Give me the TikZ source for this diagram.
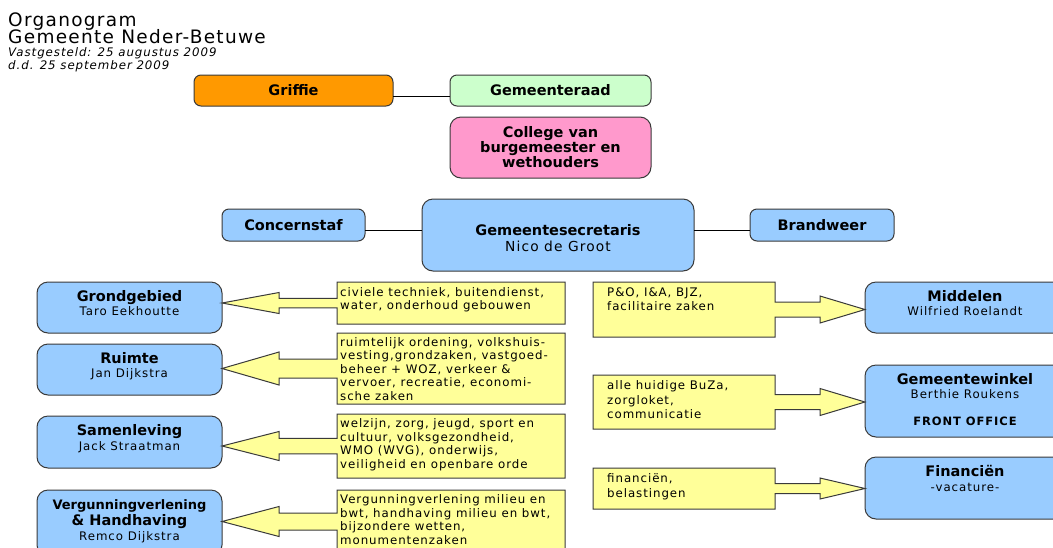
\documentclass[tikz,border=0pt]{standalone}
\usepackage{fontspec}
\setmainfont{DejaVu Sans}
\newfontfamily\bodyf[LetterSpace=8]{DejaVu Sans}
\newfontfamily\headf[LetterSpace=7]{DejaVu Sans}
\usetikzlibrary{calc}
\definecolor{orangeF}{HTML}{FF9900}
\definecolor{greenF}{HTML}{CCFFCC}
\definecolor{pinkF}{HTML}{FF99CC}
\definecolor{blueF}{HTML}{99CCFF}
\definecolor{yellowF}{HTML}{FFFF99}
\definecolor{edgeC}{HTML}{3A3A3A}
% #1 frame node, #2 department node, #3 shaft half height, #4 head half height
\newcommand\leftcallout[4]{%
  \draw[callout] (#1.north east) -- (#1.north west) -- ($(#1.west)+(0,-#3)$)
    -- ($(#2.east |- #1.west)+(57,-#3)$) -- ($(#2.east |- #1.west)+(57,-#4)$)
    -- (#2.east |- #1.west)
    -- ($(#2.east |- #1.west)+(57,#4)$) -- ($(#2.east |- #1.west)+(57,#3)$)
    -- ($(#1.west)+(0,#3)$) -- (#1.south west) -- (#1.south east) -- cycle;}
\newcommand\rightcallout[4]{%
  \draw[callout] (#1.north west) -- (#1.north east) -- ($(#1.east)+(0,-#3)$)
    -- ($(#2.west |- #1.east)+(-45,-#3)$) -- ($(#2.west |- #1.east)+(-45,-#4)$)
    -- (#2.west |- #1.east)
    -- ($(#2.west |- #1.east)+(-45,#4)$) -- ($(#2.west |- #1.east)+(-45,#3)$)
    -- ($(#1.east)+(0,#3)$) -- (#1.south east) -- (#1.south west) -- cycle;}
\tikzset{
  box/.style={draw=edgeC, line width=1pt, rounded corners=7pt, inner sep=0pt, outer sep=0pt},
  bigbox/.style={box, rounded corners=11pt},
  ttl/.style={font=\fontsize{14.5pt}{15pt}\selectfont\bfseries, inner sep=0pt, anchor=base},
  nm/.style={font=\bodyf\fontsize{11.8pt}{13.5pt}\selectfont, inner sep=0pt, anchor=base},
  frame/.style={inner sep=0pt, outer sep=0pt},
  callout/.style={draw=edgeC, fill=yellowF, line width=1pt, line join=miter},
  ctext/.style={font=\bodyf\fontsize{11.8pt}{13.5pt}\selectfont, align=left, inner sep=0pt, anchor=north west},
  rtext/.style={ctext, font=\bodyf\fontsize{11.8pt}{14.5pt}\selectfont},
  link/.style={draw=black, line width=1pt},
  head/.style={anchor=base west, inner sep=0pt, font=\headf\fontsize{18.5pt}{20pt}\selectfont},
  sub/.style={anchor=base west, inner sep=0pt, font=\bodyf\itshape\fontsize{11.8pt}{13pt}\selectfont},
}
\begin{document}
\begin{tikzpicture}[x=1pt, y=-1pt]
\useasboundingbox (0,0) rectangle (1053,547);
\clip (0,0) rectangle (1053,547);
\fill[white] (0,0) rectangle (1053,547);

% heading
\node[head] (h1) at (8,26) {Organogram};
\node[head] (h2) at (8,43) {Gemeente Neder-Betuwe};
\node[sub] (h3) at (8,56) {Vastgesteld: 25 augustus 2009};
\node[sub] (h4) at (8,69) {d.d. 25 september 2009};

% top boxes
\node[box, fill=orangeF, minimum width=199pt, minimum height=31pt, font=\fontsize{14.5pt}{15pt}\selectfont\bfseries] (griffie) at (293.5,90.5) {Griffie};
\node[box, fill=greenF, minimum width=201pt, minimum height=31pt, font=\fontsize{14.5pt}{15pt}\selectfont\bfseries] (raad) at (550.5,90.5) {Gemeenteraad};
\draw[link] ($(griffie.east)+(0,5.5)$) -- ($(raad.west)+(0,5.5)$);

\node[bigbox, fill=pinkF, minimum width=201pt, minimum height=61pt, align=center, font=\fontsize{14.5pt}{15pt}\selectfont\bfseries] (college) at (550.5,147.5) {College van\\burgemeester en\\wethouders};

\node[bigbox, fill=blueF, minimum width=272pt, minimum height=72pt] (secr) at (558,235) {};
\node[ttl] (secrT) at ($(secr.north)+(0,36)$) {Gemeentesecretaris};
\node[nm, font=\bodyf\fontsize{13.8pt}{15pt}\selectfont] (secrN) at ($(secr.north)+(0,52.5)$) {Nico de Groot};

\node[box, fill=blueF, minimum width=143pt, minimum height=32pt, font=\fontsize{14.5pt}{15pt}\selectfont\bfseries] (concern) at (293.5,225) {Concernstaf};
\node[box, fill=blueF, minimum width=144pt, minimum height=32pt, font=\fontsize{14.5pt}{15pt}\selectfont\bfseries] (brand) at (822,225) {Brandweer};
\draw[link] ($(concern.east)+(0,5)$) -- ($(concern.east -| secr.west)+(0,5)$);
\draw[link] ($(secr.east |- brand.west)+(0,5)$) -- ($(brand.west)+(0,5)$);

% left departments
\node[bigbox, fill=blueF, minimum width=185pt, minimum height=51pt] (grond) at (129.5,307.5) {};
\node[bigbox, fill=blueF, minimum width=185pt, minimum height=51pt] (ruimte) at (129.5,369.5) {};
\node[bigbox, fill=blueF, minimum width=185pt, minimum height=52pt] (samen) at (129.5,442) {};
\node[bigbox, fill=blueF, minimum width=185pt, minimum height=66pt] (verg) at (129.5,523) {};

% right departments
\node[bigbox, fill=blueF, minimum width=200pt, minimum height=51pt] (midd) at (965,307.5) {};
\node[bigbox, fill=blueF, minimum width=200pt, minimum height=72pt] (winkel) at (965,401) {};
\node[bigbox, fill=blueF, minimum width=200pt, minimum height=62pt] (fin) at (965,488) {};

% callout frames
\node[frame, minimum width=228pt, minimum height=42pt] (c1) at (451,303) {};
\node[frame, minimum width=228pt, minimum height=71pt] (c2) at (451,368.5) {};
\node[frame, minimum width=228pt, minimum height=64pt] (c3) at (451,446) {};
\node[frame, minimum width=228pt, minimum height=63pt] (c4) at (451,521.5) {};
\node[frame, minimum width=182pt, minimum height=55pt] (r1) at (684,309.5) {};
\node[frame, minimum width=182pt, minimum height=54pt] (r2) at (684,402) {};
\node[frame, minimum width=182pt, minimum height=41pt] (r3) at (684,488.5) {};

\leftcallout{c1}{grond}{4.75}{10.5}
\leftcallout{c2}{ruimte}{9.5}{16.5}
\leftcallout{c3}{samen}{7.75}{14.5}
\leftcallout{c4}{verg}{8.5}{15}
\rightcallout{r1}{midd}{7.5}{13.5}
\rightcallout{r2}{winkel}{7.5}{13.5}
\rightcallout{r3}{fin}{5}{10.5}

% callout texts
\node[ctext] (c1t) at ($(c1.north west)+(3,5)$) {civiele techniek, buitendienst,\\water, onderhoud gebouwen};
\node[ctext] (c2t) at ($(c2.north west)+(3,4)$) {ruimtelijk ordening, volkshuis-\\vesting,grondzaken, vastgoed-\\beheer + WOZ, verkeer \&\\vervoer, recreatie, economi-\\sche zaken};
\node[ctext] (c3t) at ($(c3.north west)+(3,4.5)$) {welzijn, zorg, jeugd, sport en\\cultuur, volksgezondheid,\\WMO (WVG), onderwijs,\\veiligheid en openbare orde};
\node[ctext] (c4t) at ($(c4.north west)+(3,4.5)$) {Vergunningverlening milieu en\\bwt, handhaving milieu en bwt,\\bijzondere wetten,\\monumentenzaken};
\node[rtext] (r1t) at ($(r1.north west)+(14,5.5)$) {P\&O, I\&A, BJZ,\\facilitaire zaken};
\node[rtext] (r2t) at ($(r2.north west)+(14,5.5)$) {alle huidige BuZa,\\zorgloket,\\communicatie};
\node[rtext] (r3t) at ($(r3.north west)+(14,5.5)$) {financiën,\\belastingen};

% department texts
\node[ttl] (grondT) at ($(grond.north)+(0,19)$) {Grondgebied};
\node[nm] (grondN) at ($(grond.north)+(0,33.5)$) {Taro Eekhoutte};
\node[ttl] (ruimteT) at ($(ruimte.north)+(0,19)$) {Ruimte};
\node[nm] (ruimteN) at ($(ruimte.north)+(0,33.5)$) {Jan Dijkstra};
\node[ttl] (samenT) at ($(samen.north)+(0,19)$) {Samenleving};
\node[nm] (samenN) at ($(samen.north)+(0,34)$) {Jack Straatman};
\node[ttl, font=\fontsize{13pt}{15pt}\selectfont\bfseries] (vergT1) at ($(verg.north)+(0,19)$) {Vergunningverlening};
\node[ttl] (vergT2) at ($(verg.north)+(0,35)$) {\& Handhaving};
\node[nm] (vergN) at ($(verg.north)+(0,50.5)$) {Remco Dijkstra};

\node[ttl] (middT) at ($(midd.north)+(0,19)$) {Middelen};
\node[nm] (middN) at ($(midd.north)+(0,33.5)$) {Wilfried Roelandt};
\node[ttl] (winkelT) at ($(winkel.north)+(0,19)$) {Gemeentewinkel};
\node[nm] (winkelN) at ($(winkel.north)+(0,33.5)$) {Berthie Roukens};
\node[nm, font=\bodyf\fontsize{11.5pt}{13pt}\selectfont\bfseries] (winkelF) at ($(winkel.north)+(0,60.5)$) {FRONT OFFICE};
\node[ttl] (finT) at ($(fin.north)+(0,19)$) {Financiën};
\node[nm] (finN) at ($(fin.north)+(0,34)$) {-vacature-};
\end{tikzpicture}
\end{document}
